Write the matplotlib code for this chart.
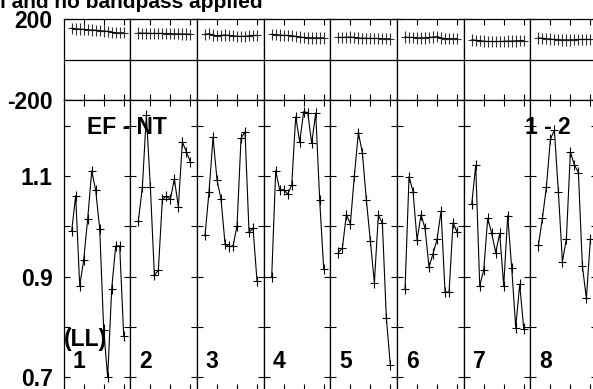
import matplotlib.pyplot as plt
import numpy as np

plt.rcParams['font.family'] = ['Liberation Sans', 'DejaVu Sans']
plt.rcParams['font.weight'] = 'bold'
plt.rcParams['axes.unicode_minus'] = False

# channels plotted in every IF panel
channels = [2, 3, 4, 5, 6, 7, 8, 9, 10, 11, 12, 13, 14, 15]

# amplitude per IF
amp_if1 = [0.991, 1.061, 0.882, 0.933, 1.015, 1.110, 1.072, 0.995, 0.795, 0.700, 0.876, 0.961, 0.961, 0.783]
amp_if2 = [1.011, 1.078, 1.221, 1.078, 0.903, 0.913, 1.054, 1.060, 1.054, 1.094, 1.039, 1.168, 1.148, 1.128]
amp_if3 = [0.983, 1.069, 1.177, 1.092, 1.054, 0.965, 0.960, 0.961, 1.001, 1.175, 1.188, 0.988, 0.997, 0.891]
amp_if4 = [0.900, 1.110, 1.072, 1.073, 1.064, 1.082, 1.218, 1.168, 1.228, 1.226, 1.165, 1.225, 1.052, 0.915]
amp_if5 = [0.948, 0.957, 1.023, 1.005, 1.101, 1.186, 1.146, 1.052, 0.971, 0.888, 1.023, 1.006, 0.817, 0.724]
amp_if6 = [0.876, 1.099, 1.069, 0.973, 1.023, 0.996, 0.919, 0.946, 0.974, 1.030, 0.870, 0.869, 1.007, 0.989]
amp_if7 = [1.044, 1.121, 0.882, 0.913, 1.016, 0.986, 0.948, 0.986, 0.882, 1.021, 0.917, 0.799, 0.885, 0.797]
amp_if8 = [0.962, 1.016, 1.078, 1.173, 1.191, 1.068, 0.930, 0.975, 1.148, 1.122, 1.107, 0.921, 0.857, 0.974]

# phase per IF (degrees)
phase_if1 = [155, 152, 152, 150, 148, 147, 146, 144, 142, 140, 135, 133, 133, 133]
phase_if2 = [132, 131, 131, 130, 130, 130, 130, 129, 129, 128, 128, 127, 127, 126]
phase_if3 = [126, 128, 122, 118, 120, 122, 120, 118, 116, 115, 116, 118, 120, 120]
phase_if4 = [125, 124, 122, 120, 120, 118, 116, 112, 110, 108, 108, 108, 108, 108]
phase_if5 = [110, 110, 111, 112, 110, 108, 106, 106, 105, 105, 105, 104, 104, 103]
phase_if6 = [112, 110, 110, 108, 108, 108, 110, 112, 114, 108, 104, 104, 104, 104]
phase_if7 = [98, 96, 94, 92, 90, 90, 90, 90, 91, 92, 92, 93, 94, 94]
phase_if8 = [108, 106, 104, 102, 100, 99, 98, 98, 98, 99, 100, 100, 100, 100]

amps = [amp_if1, amp_if2, amp_if3, amp_if4, amp_if5, amp_if6, amp_if7, amp_if8]
phases = [phase_if1, phase_if2, phase_if3, phase_if4, phase_if5, phase_if6, phase_if7, phase_if8]
if_labels = ['1', '2', '3', '4', '5', '6', '7', '8']

W, H = 593, 389
fig = plt.figure(figsize=(W / 100, H / 100), dpi=100)

def fx(px):
    return px / W

def fy(py):
    return 1 - py / H

x0 = 63.7      # left edge of first panel (pixels)
pw = 66.67     # panel width (pixels)
fs = 16.5

for i in range(8):
    left = fx(x0 + i * pw)
    # phase panel
    axp = fig.add_axes([left, fy(100), pw / W, (100 - 19.3) / H])
    axp.errorbar(channels, phases[i], xerr=1.0, yerr=28, color='black', lw=0.8,
                 elinewidth=0.8, ecolor='#333333', capsize=0)
    axp.axhline(0, color='black', lw=0.9)
    axp.set_xlim(0, 16.67)
    axp.set_ylim(-200, 200)
    axp.set_xticks([5, 10, 15])
    axp.set_yticks([-200, 200])
    axp.tick_params(direction='in', top=True, right=True, length=4, width=0.8,
                    labelbottom=False, labelleft=(i == 0), pad=8, labelsize=fs)

    # amplitude panel
    axa = fig.add_axes([left, fy(390), pw / W, 290 / H])
    axa.errorbar(channels, amps[i], xerr=1.0, yerr=0.01, color='black', lw=0.8,
                 elinewidth=0.8, capsize=0)
    axa.set_xlim(0, 16.67)
    axa.set_ylim(0.6748, 1.2511)
    axa.set_xticks([5, 10, 15])
    axa.set_yticks([0.7, 0.8, 0.9, 1.0, 1.1, 1.2])
    axa.set_yticklabels(['0.7', '', '0.9', '', '1.1', ''])
    axa.tick_params(direction='in', top=True, right=True, length=4, width=0.8,
                    labelbottom=False, labelleft=(i == 0), pad=8, labelsize=fs)
    for a in (axp, axa):
        for s in a.spines.values():
            s.set_linewidth(0.9)
    axa.text(2.2, 0.7185, if_labels[i], fontsize=fs, fontweight='bold', va='baseline')

# labels inside the amplitude panels
fig.text(fx(87), fy(134), 'EF - NT', fontsize=fs, fontweight='bold', va='baseline')
fig.text(fx(525), fy(134), '1 - 2', fontsize=fs, fontweight='bold', va='baseline')
fig.text(fx(64), fy(346), '(LL)', fontsize=fs, fontweight='bold', va='baseline')

# title (top cut off in the original)
fig.text(fx(0), fy(8), 'l and no bandpass applied', fontsize=15, fontweight='bold',
         va='baseline', ha='left')

plt.savefig('out.png', dpi=100)
